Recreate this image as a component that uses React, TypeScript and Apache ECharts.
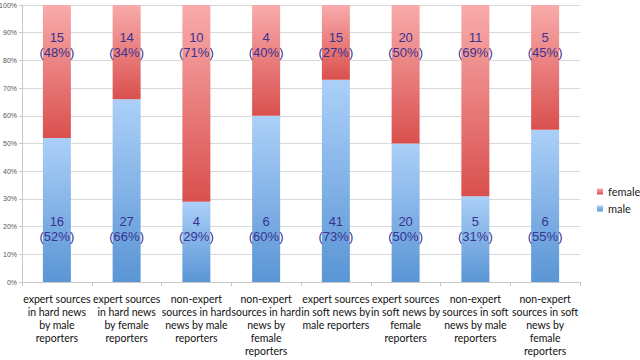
import React, { useEffect, useRef } from "react";
import * as echarts from "echarts";

const categories = [
  "expert sources\nin hard news\nby male\nreporters",
  "expert sources\nin hard news\nby female\nreporters",
  "non-expert\nsources in hard\nnews by male\nreporters",
  "non-expert\nsources in hard\nnews by\nfemale\nreporters",
  "expert sources\nin soft news by\nmale reporters",
  "expert sources\nin soft news by\nfemale\nreporters",
  "non-expert\nsources in soft\nnews by male\nreporters",
  "non-expert\nsources in soft\nnews by\nfemale\nreporters",
];
const maleCounts = [16, 27, 4, 6, 41, 20, 5, 6];
const femaleCounts = [15, 14, 10, 4, 15, 20, 11, 5];
const malePct = [52, 66, 29, 60, 73, 50, 31, 55];
const femalePct = [48, 34, 71, 40, 27, 50, 69, 45];

const labelColor = "#3a3391";

export default function App() {
  const ref = useRef<HTMLDivElement>(null);
  useEffect(() => {
    if (!ref.current) return;
    const chart = echarts.init(ref.current, null, { renderer: "svg" });
    const maleGrad = new echarts.graphic.LinearGradient(0, 0, 0, 1, [
      { offset: 0, color: "#acd0f8" },
      { offset: 1, color: "#5a95d5" },
    ]);
    const femaleGrad = new echarts.graphic.LinearGradient(0, 0, 0, 1, [
      { offset: 0, color: "#f9abab" },
      { offset: 1, color: "#d9504e" },
    ]);
    chart.setOption({
      animation: false,
      grid: { left: 22, right: 60, top: 5, bottom: 78, containLabel: false, outerBoundsMode: "none" },
      legend: {
        orient: "vertical",
        left: 597,
        top: 186,
        padding: 0,
        itemWidth: 6,
        itemHeight: 6,
        itemGap: 6,
        icon: "rect",
        data: ["female", "male"],
        textStyle: { fontSize: 11, color: "#222", fontFamily: "Lato" },
      },
      xAxis: {
        type: "category",
        data: categories,
        axisLine: { lineStyle: { color: "#c8c8c8" } },
        axisTick: { show: true, length: 4, lineStyle: { color: "#c8c8c8" } },
        axisLabel: {
          interval: 0,
          fontSize: 10.5,
          lineHeight: 13,
          color: "#111",
          fontFamily: "Lato",
          margin: 10,
          align: "center",
        },
      },
      yAxis: {
        type: "value",
        min: 0,
        max: 100,
        interval: 10,
        axisLabel: {
          formatter: "{value}%",
          fontSize: 7,
          color: "#555",
          fontFamily: "Liberation Sans",
          margin: 5,
        },
        axisLine: { show: true, lineStyle: { color: "#c8c8c8" } },
        axisTick: { show: true, length: 3, lineStyle: { color: "#c8c8c8" } },
        splitLine: { lineStyle: { color: "#d9d9d9", width: 1 } },
      },
      series: [
        {
          name: "male",
          type: "bar",
          stack: "total",
          barWidth: 28,
          data: malePct,
          itemStyle: { color: maleGrad },
          label: {
            show: true,
            position: "insideBottom",
            distance: 38,
            fontSize: 13,
            lineHeight: 15,
            color: labelColor,
            fontFamily: "Liberation Sans",
            formatter: (p: any) => `${maleCounts[p.dataIndex]}\n(${malePct[p.dataIndex]}%)`,
          },
        },
        {
          name: "female",
          type: "bar",
          stack: "total",
          barWidth: 28,
          data: femalePct,
          itemStyle: { color: femaleGrad },
          label: {
            show: true,
            position: "insideTop",
            distance: 25,
            fontSize: 13,
            lineHeight: 15,
            color: labelColor,
            fontFamily: "Liberation Sans",
            formatter: (p: any) => `${femaleCounts[p.dataIndex]}\n(${femalePct[p.dataIndex]}%)`,
          },
        },
      ],
    });
    return () => chart.dispose();
  }, []);
  return <div ref={ref} style={{ width: 640, height: 360, position: "absolute", left: 0, top: 0 }} />;
}
